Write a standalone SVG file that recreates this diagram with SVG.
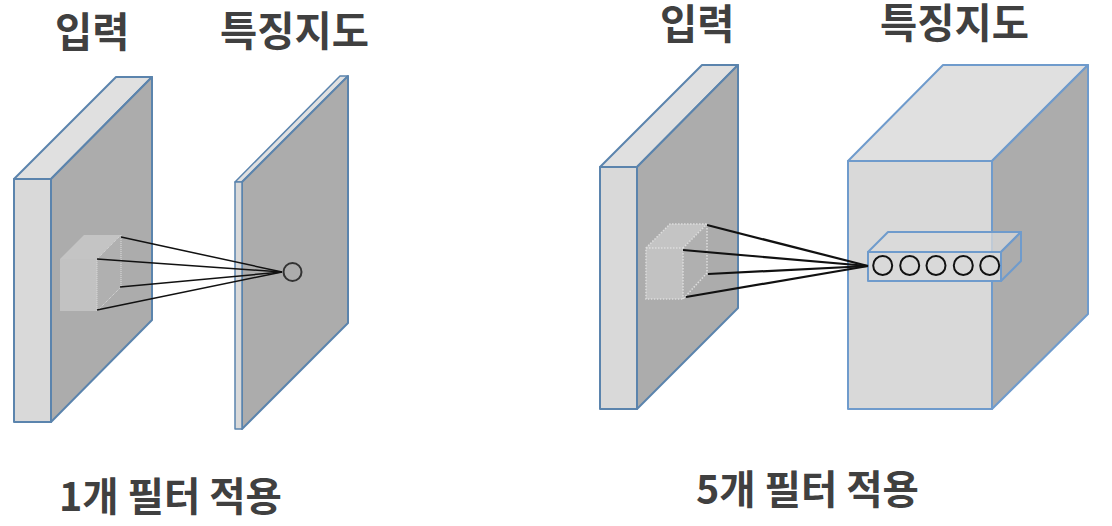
<svg xmlns="http://www.w3.org/2000/svg" width="1112" height="526" viewBox="0 0 1112 526">
<style>
text{font-family:"Noto Sans CJK KR","Noto Sans",sans-serif;font-weight:700;fill:#404040}
.t{font-size:40.500px}.c{font-size:39.500px}
.e{stroke:#5b84ad;stroke-width:2;stroke-linejoin:round}
.b{stroke:#6f9bcc}
.f{fill:#d9d9d9}.p{fill:#e0e0e0}.s{fill:#acacac}
.l{stroke:#111;fill:none}
.r{fill:none;stroke:#111;stroke-width:2}
</style>
<rect width="1112" height="526" fill="#fff"/>
<g id="input-left">
<path class="e p" d="M14 179L116 77H152L51 179Z"/>
<path class="e s" d="M51 179L152 77V320L51 422Z"/>
<rect class="e f" x="14" y="179" width="37" height="243"/>
<g id="cube-left">
<path d="M60 259L84 235H121L97 259Z" fill="#c4c4c4"/>
<path d="M60 259H97V311H60Z" fill="#c2c2c2"/>
<path d="M97 259L121 235V287L97 311Z" fill="#b0b0b0" stroke="#ddd" stroke-width="1" stroke-dasharray="1 1"/>
</g>
</g>
<g id="map-left">
<path class="e p" style="stroke-width:1.500" d="M235 182L340 76H348L242 182Z"/>
<path class="e s" d="M242 182L348 76V323L242 429Z"/>
<rect class="e f" style="stroke-width:1.500" x="235" y="182" width="7" height="247"/>
<circle class="r" cx="292.500" cy="272" r="9" style="stroke:#333"/>
</g>
<g id="input-right">
<path class="e p" d="M600 167L702 65H738L637 167Z"/>
<path class="e s" d="M637 167L738 65V308L637 409Z"/>
<rect class="e f" x="600" y="167" width="37" height="242"/>
<g id="cube-right">
<path d="M646 248L670 224H707L683 248Z" fill="#c4c4c4"/>
<path d="M646 248H683V299H646Z" fill="#c2c2c2"/>
<path d="M683 248L707 224V273L683 299Z" fill="#b0b0b0"/>
<path d="M646 248L670 224H707V273L683 299H646ZM646 248H683V299M683 248L707 224" fill="none" stroke="#ddd" stroke-width="1.500" stroke-dasharray="1.500 1.500"/>
</g>
</g>
<g id="map-right">
<path class="e b p" d="M848 161L943 65H1088L992 161Z"/>
<path class="e b s" d="M992 161L1088 65V314L992 409Z"/>
<rect class="e b f" x="848" y="161" width="144" height="248"/>
<g id="bar">
<path d="M868 252L888 232H1021L1001 252Z" fill="#d9d9d9" fill-opacity=".75" class="e b"/>
<path d="M1001 252L1021 232V261L1001 281Z" class="e b s"/>
<rect x="868" y="252" width="133" height="29" fill="#d9d9d9" class="e b"/>
<circle class="r" cx="882.700" cy="265.500" r="9.500"/>
<circle class="r" cx="909.700" cy="265.500" r="9.500"/>
<circle class="r" cx="936" cy="265.500" r="9.500"/>
<circle class="r" cx="963.300" cy="265.500" r="9.500"/>
<circle class="r" cx="989.700" cy="265.500" r="9.500"/>
</g>
</g>
<g id="connectors">
<g class="l" stroke-width="1.500">
<path d="M121 237L282 272"/>
<path d="M97 259L282 272"/>
<path d="M120 287L282 272"/>
<path d="M97 310L282 272"/>
</g>
<g class="l" stroke-width="2.200">
<path d="M707 225L868 266"/>
<path d="M683 250L868 266"/>
<path d="M708 274L868 266"/>
<path d="M686 297L868 266"/>
</g>
</g>
<g id="labels">
<text class="t" x="55" y="47">입력</text>
<text class="t" x="220" y="46">특징지도</text>
<text class="t" x="660" y="39">입력</text>
<text class="t" x="880" y="38">특징지도</text>
<text class="c" x="59" y="511">1개 필터 적용</text>
<text class="c" x="696" y="504">5개 필터 적용</text>
</g>
</svg>
